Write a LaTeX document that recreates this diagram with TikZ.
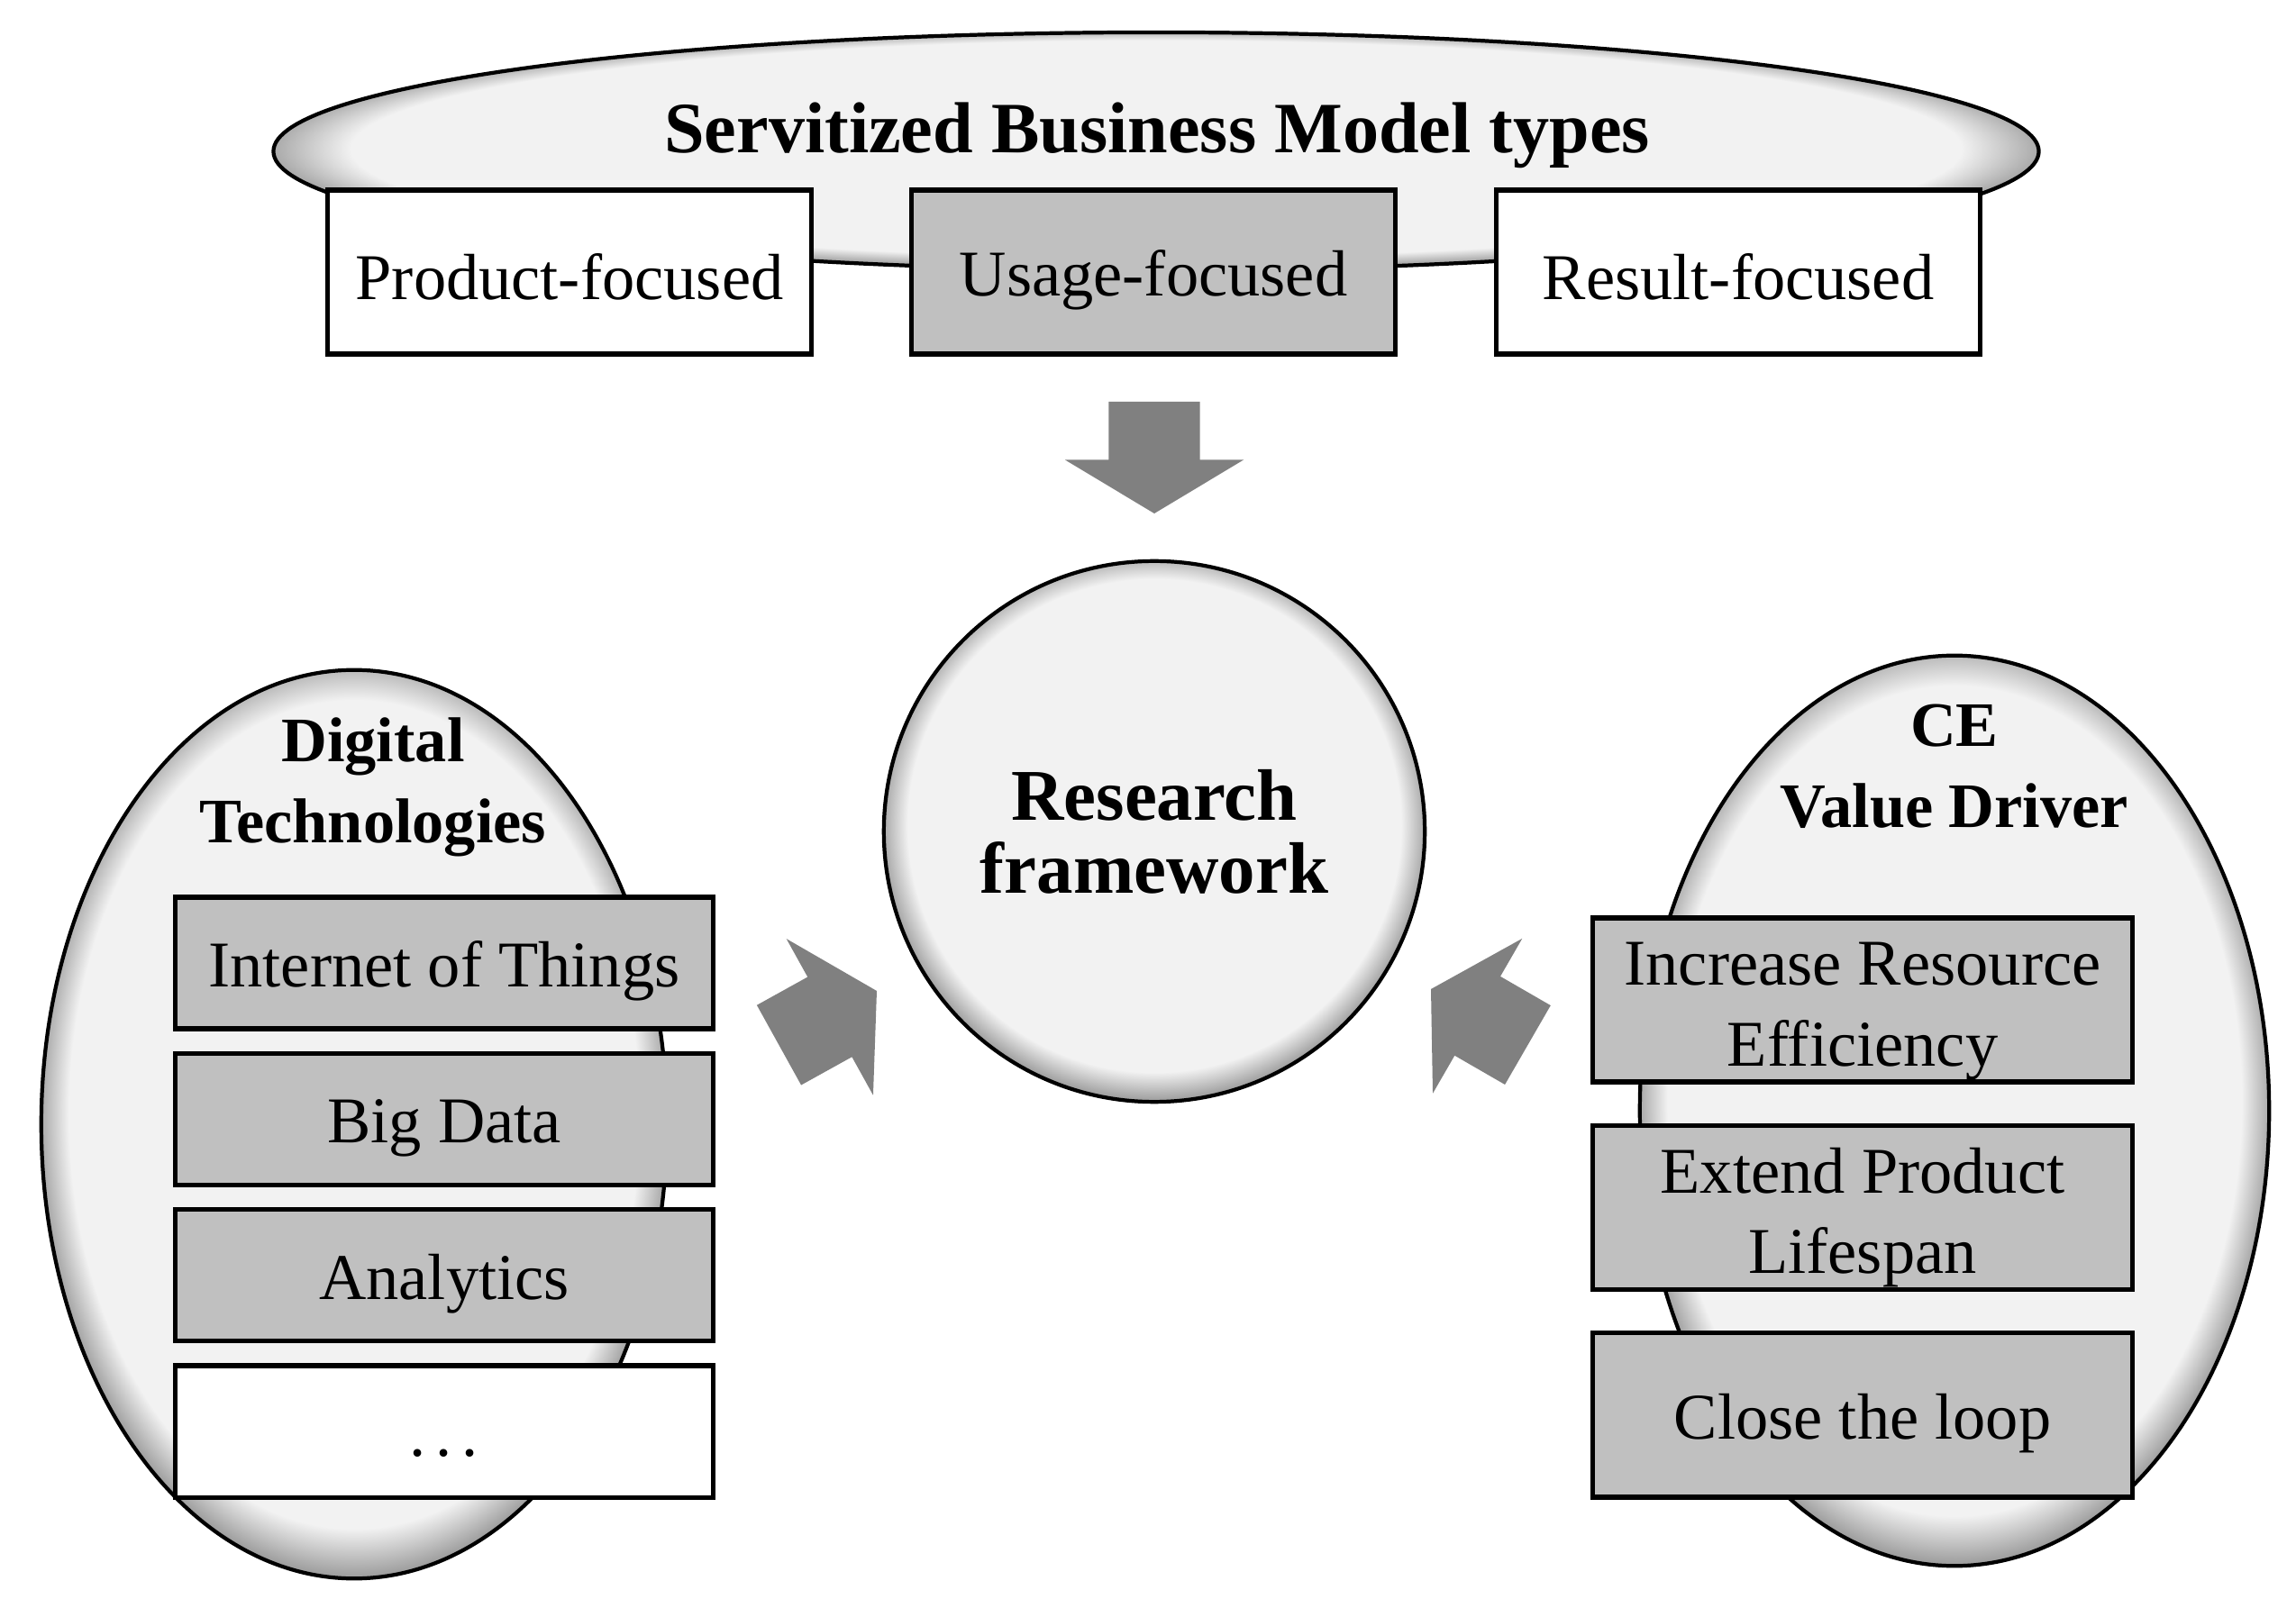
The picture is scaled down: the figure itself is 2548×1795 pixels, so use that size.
\documentclass[tikz,border=0pt]{standalone}
\usepackage{fontspec}
\setmainfont{Liberation Serif}
\usepackage{xcolor}
\usepackage{tikz}
\definecolor{boxgray}{RGB}{192,192,192}
\definecolor{arrowgray}{RGB}{128,128,128}
\definecolor{ovalgray}{RGB}{242,242,242}
\definecolor{rimgray}{RGB}{150,150,150}
\usetikzlibrary{shapes,arrows,positioning}
\pgfdeclareradialshading{rimshade}{\pgfpoint{0bp}{1bp}}{color(0bp)=(ovalgray); color(22.8bp)=(ovalgray); color(25.6bp)=(rimgray); color(50bp)=(rimgray)}
\newcommand{\boxstrut}{\rule[-0.1em]{0pt}{1.05em}}
\newcommand{\tallstrut}{\rule{0pt}{1.0em}}

\begin{document}
\begin{tikzpicture}[x=0.01cm, y=-0.01cm,
    oval/.style={ellipse, draw, line width=1.2pt, shading=rimshade, inner sep=0pt},
    itembox/.style={rectangle, draw, line width=1.5pt, fill=boxgray, inner sep=0pt, align=center, font=\fontsize{20.6}{25.5}\selectfont, execute at begin node=\boxstrut, execute at end node=\boxstrut},
    ovaltitle/.style={font=\bfseries\fontsize{20}{25.5}\selectfont, align=center},
    bigarrow/.style={single arrow, fill=arrowgray, inner xsep=0pt, inner ysep=0.5cm, outer sep=0pt, minimum height=1.24cm, single arrow head extend=0.485cm, single arrow tip angle=118, anchor=tip}]
    \useasboundingbox (0,0) rectangle (2548,1795);

    % Business model types
    \node[oval, minimum width=19.58cm, minimum height=2.64cm] (sbm) at (1283,168) {};
    \node[ovaltitle, font=\bfseries\fontsize{22.8}{25.5}\selectfont] (sbmtitle) at (1284,150) {Servitized Business Model types};
    \node[itembox, fill=white, minimum width=5.37cm, minimum height=1.82cm] (prod) at (632,302) {Product-focused};
    \node[itembox, minimum width=5.37cm, minimum height=1.82cm] (usage) at (1280,302) {Usage-focused};
    \node[itembox, fill=white, minimum width=5.37cm, minimum height=1.82cm] (result) at (1929,302) {Result-focused};

    % Research framework
    \node[oval, circle, minimum size=6cm, font=\bfseries\fontsize{23}{23}\selectfont, align=center] (rf) at (1281,923) {Research\\framework};

    % Digital technologies
    \node[oval, minimum width=6.94cm, minimum height=10.08cm] (dt) at (393,1248) {};
    \node[ovaltitle] (dttitle) at (414,874) {Digital\\Technologies};
    \node[itembox, minimum width=5.96cm, minimum height=1.46cm] (iot) at (493,1069) {Internet of Things};
    \node[itembox, minimum width=5.96cm, minimum height=1.46cm, below=0.22cm of iot] (bigdata) {Big Data};
    \node[itembox, minimum width=5.96cm, minimum height=1.46cm, below=0.22cm of bigdata] (analytics) {Analytics};
    \node[itembox, fill=white, minimum width=5.96cm, minimum height=1.46cm, below=0.22cm of analytics] (more) {\raisebox{0.05em}{.\hspace{0.15em}.\hspace{0.15em}.}};

    % CE value drivers
    \node[oval, minimum width=6.98cm, minimum height=10.1cm] (ce) at (2169,1233) {};
    \node[ovaltitle] (cetitle) at (2169,851) {CE\\Value Driver};
    \node[itembox, minimum width=5.98cm, minimum height=1.82cm] (eff) at (2067,1110) {\tallstrut Increase Resource\\Efficiency};
    \node[itembox, minimum width=5.98cm, minimum height=1.82cm, below=0.43cm of eff] (life) {\tallstrut Extend Product\\Lifespan};
    \node[itembox, minimum width=5.98cm, minimum height=1.82cm, below=0.43cm of life] (loop) {Close the loop};

    % Arrows
    \node[bigarrow, rotate=-90] (adown) at (1281,570) {};
    \node[bigarrow, rotate=29] (aleft) at (973,1100) {};
    \node[bigarrow, rotate=150] (aright) at (1588,1098) {};
\end{tikzpicture}
\end{document}
